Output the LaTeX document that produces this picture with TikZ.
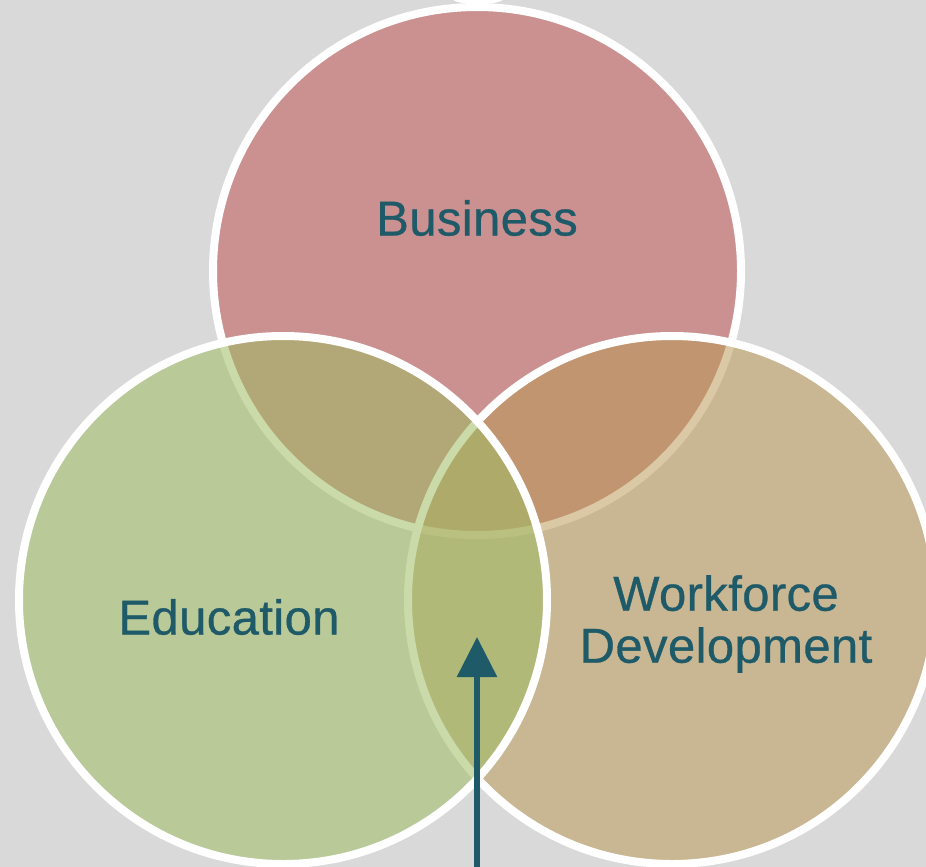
\documentclass[tikz,border=0pt]{standalone}
\usepackage{fontspec}
\setmainfont{Liberation Sans}
\newfontfamily\lblfont{Liberation Sans}[FakeBold=0.6, LetterSpace=0.8]
\usetikzlibrary{arrows.meta}
\definecolor{bg}{HTML}{D9D9D9}
\definecolor{busfill}{HTML}{CB9191}
\definecolor{wffill}{HTML}{BB9955}
\definecolor{edfill}{HTML}{9FBC63}
\definecolor{txt}{HTML}{1F5A69}
\tikzset{
  ring/.style={draw=white, line width=8pt},
  label/.style={text=txt, font=\lblfont\fontsize{49}{52}\selectfont, align=center, inner sep=0pt},
  pointer/.style={draw=txt, line width=6pt, -{Triangle[width=39pt,length=40pt]}}
}
\begin{document}
\begin{tikzpicture}[x=1pt,y=-1pt]
\fill[bg] (0,0) rectangle (926,867);
\useasboundingbox (0,0) rectangle (926,867);
% small white bump at top
\fill[white] (478,-1) ellipse [x radius=25, y radius=5];
% circles
\draw[ring, fill=busfill] (477,271) circle [radius=264];
\draw[ring, fill=wffill, fill opacity=0.53] (672,600) circle [radius=264];
\draw[ring, fill=edfill, fill opacity=0.55] (283,600) circle [radius=264];
% labels
\node[label] (business) at (477,218) {Business};
\node[label] (education) at (229,617) {Education};
\node[label] (workforce) at (726,624) {Workforce\\Development};
% arrow
\coordinate (arrowfoot) at (477,870);
\coordinate (arrowtip) at (477,637);
\draw[pointer] (arrowfoot) -- (arrowtip);
\end{tikzpicture}
\end{document}
